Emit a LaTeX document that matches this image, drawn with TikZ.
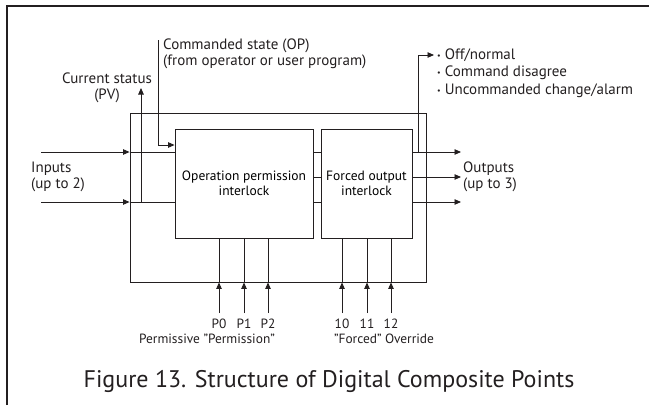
\documentclass[tikz,border=0pt]{standalone}
\usepackage{fontspec}
\setmainfont{PT Sans}
\usetikzlibrary{arrows.meta}
\definecolor{ink}{HTML}{231F20}
\tikzset{
  wire/.style={draw=ink, line width=0.9pt},
  arr/.style={wire, -{Triangle[length=6.5pt,width=5.5pt]}},
  blockbox/.style={draw=ink, line width=0.9pt, minimum width=#1, align=center, inner sep=0pt, minimum height=109pt, font=\fontsize{13.5}{15}\selectfont},
  lbl/.style={text=ink, inner sep=0pt, font=\fontsize{15}{16}\selectfont},
  small/.style={text=ink, inner sep=0pt, font=\fontsize{13.4}{14}\selectfont},
}
\newcommand{\bul}{{\fontsize{8}{8}\selectfont\raisebox{0.3ex}{•}}}
\begin{document}
\begin{tikzpicture}[x=1pt,y=-1pt]
  \useasboundingbox (0,0) rectangle (649,405);
  % page frame (top and left rules)
  \draw[ink, line width=2pt] (7,405) -- (7,6) -- (649,6);

  % enclosing point and the two interlock blocks
  \node[draw=ink, line width=0.9pt, minimum width=296pt, minimum height=169pt, inner sep=0pt] (frame) at (278,197.5) {};
  \node[blockbox=138pt] (oper) at (244,183.5) {Operation permission\\interlock};
  \node[blockbox=91pt] (forced) at (366.5,183.5) {Forced output\\interlock};

  % inputs
  \coordinate (inA) at (41,152);
  \coordinate (inB) at (41,202);
  \draw[arr] (inA) -- (frame.west |- inA);
  \draw[wire] (frame.west |- inA) -- (oper.west |- inA);
  \draw[arr] (inB) -- (frame.west |- inB);
  \draw[wire] (frame.west |- inB) -- (oper.west |- inB);
  \node[lbl, anchor=west, align=left] (inlbl) at (31,177) {Inputs\\(up to 2)};

  % current status taken from the input line
  \coordinate (pvfoot) at (141,202);
  \coordinate (pvtip) at (141,88);
  \draw[arr] (pvfoot) -- (pvtip);
  \node[lbl, align=center] (pvlbl) at (107,88) {Current status\\(PV)};

  % commanded state into the permission block
  \coordinate (optop) at (158,40);
  \coordinate (opbend) at (158,145);
  \draw[arr] (optop) -- (opbend) -- (oper.west |- opbend);
  \node[lbl, anchor=north west, align=left] (oplbl) at (163,39) {Commanded state (OP)\\(from operator or user program)};

  % links between the blocks
  \foreach \y in {152,177,202}
    \draw[wire] (oper.east |- 0,\y) -- (forced.west |- 0,\y);

  % outputs
  \foreach \y/\n in {152/outA,177/outB,202/outC} {
    \coordinate (\n) at (461,\y);
    \draw[arr] (forced.east |- \n) -- (\n);
  }
  \node[lbl, anchor=west, align=left] (outlbl) at (463,177) {Outputs\\(up to 3)};

  % alarm status
  \coordinate (alfoot) at (418,152);
  \coordinate (altip) at (434,55);
  \draw[arr] (alfoot) -- (alfoot |- altip) -- (altip);
  \node[lbl, anchor=west] (al1) at (437,55) {\bul\ Off/normal};
  \node[lbl, anchor=west] (al2) at (437,73) {\bul\ Command disagree};
  \node[lbl, anchor=west] (al3) at (437,91) {\bul\ Uncommanded change/alarm};

  % permissive inputs
  \foreach \x/\t in {219/P0,244/P1,268/P2} {
    \node[small] (\t) at (\x,324) {\t};
    \coordinate (\t f) at (\x,313);
    \draw[arr] (\t f) -- (frame.south -| \t f);
    \draw[wire] (frame.south -| \t f) -- (oper.south -| \t f);
  }
  \node[small] (plbl) at (207,339) {Permissive "Permission"};

  % forced override inputs
  \foreach \x/\t/\n in {342/10/fa,367/11/fb,391/12/fc} {
    \node[small] (\n) at (\x,324) {\t};
    \coordinate (\n f) at (\x,313);
    \draw[arr] (\n f) -- (frame.south -| \n f);
    \draw[wire] (frame.south -| \n f) -- (forced.south -| \n f);
  }
  \node[small] (flbl) at (384,339) {"Forced" Override};

  % caption
  \node[text=ink, inner sep=0pt, font=\fontsize{24}{26}\selectfont] (cap) at (329,381) {Figure 13. Structure of Digital Composite Points};
\end{tikzpicture}
\end{document}
